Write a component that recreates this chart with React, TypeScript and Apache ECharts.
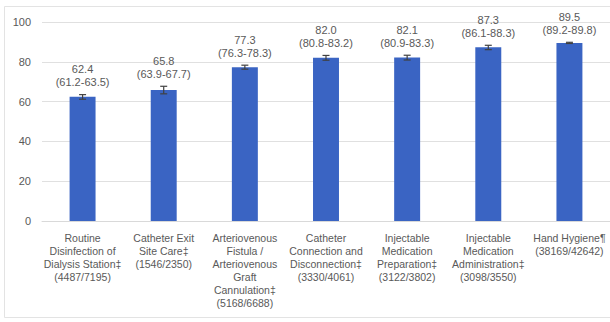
import React, { useEffect, useRef } from "react";
import * as echarts from "echarts";

const categories = [
  "Routine\nDisinfection of\nDialysis Station‡\n(4487/7195)",
  "Catheter Exit\nSite Care‡\n(1546/2350)",
  "Arteriovenous\nFistula /\nArteriovenous\nGraft\nCannulation‡\n(5168/6688)",
  "Catheter\nConnection and\nDisconnection‡\n(3330/4061)",
  "Injectable\nMedication\nPreparation‡\n(3122/3802)",
  "Injectable\nMedication\nAdministration‡\n(3098/3550)",
  "Hand Hygiene¶\n(38169/42642)",
];
const values = [62.4, 65.8, 77.3, 82.0, 82.1, 87.3, 89.5];
const ciLow = [61.2, 63.9, 76.3, 80.8, 80.9, 86.1, 89.2];
const ciHigh = [63.5, 67.7, 78.3, 83.2, 83.3, 88.3, 89.8];
const yTicks = [0, 20, 40, 60, 80, 100];

const FONT = "Liberation Sans";
const TEXT = "#595959";

export default function App() {
  const ref = useRef<HTMLDivElement>(null);
  useEffect(() => {
    if (!ref.current) return;
    const chart = echarts.init(ref.current, undefined, { renderer: "svg" });
    chart.setOption({
      animation: false,
      backgroundColor: "#ffffff",
      graphic: [
        {
          type: "rect",
          shape: { x: 4.5, y: 6.5, width: 620, height: 311 },
          style: { fill: "none", stroke: "#e3e3e3", lineWidth: 1 },
          silent: true,
          z: -1,
        },
      ],
      grid: { left: 42, top: 22, width: 573, height: 199 },
      xAxis: {
        type: "category",
        data: categories,
        axisTick: { show: false },
        axisLine: { lineStyle: { color: "#d9d9d9" } },
        axisLabel: {
          interval: 0,
          color: TEXT,
          fontFamily: FONT,
          fontSize: 10.5,
          lineHeight: 13,
          margin: 10,
        },
      },
      yAxis: {
        type: "value",
        min: yTicks[0],
        max: yTicks[yTicks.length - 1],
        interval: 20,
        axisLine: { show: false },
        axisTick: { show: false },
        splitLine: { lineStyle: { color: "#e0e0e0" } },
        axisLabel: { color: TEXT, fontFamily: FONT, fontSize: 11, margin: 11 },
      },
      series: [
        {
          type: "bar",
          data: values,
          barWidth: "32%",
          itemStyle: { color: "#3A64C3" },
        },
        {
          type: "custom",
          data: values.map((v, i) => [i, ciLow[i], ciHigh[i], v]),
          encode: { x: 0, y: [1, 2] },
          z: 10,
          renderItem: (params: any, api: any) => {
            const i = api.value(0);
            const lo = api.coord([i, api.value(1)]);
            const hi = api.coord([i, api.value(2)]);
            const x = lo[0];
            const cap = 3.5;
            const style = { stroke: "#404040", lineWidth: 1.2 };
            return {
              type: "group",
              children: [
                { type: "line", shape: { x1: x, y1: lo[1], x2: x, y2: hi[1] }, style },
                { type: "line", shape: { x1: x - cap, y1: lo[1], x2: x + cap, y2: lo[1] }, style },
                { type: "line", shape: { x1: x - cap, y1: hi[1], x2: x + cap, y2: hi[1] }, style },
                {
                  type: "text",
                  x: x,
                  y: hi[1] - 6,
                  style: {
                    text:
                      api.value(3).toFixed(1) +
                      "\n(" +
                      api.value(1).toFixed(1) +
                      "-" +
                      api.value(2).toFixed(1) +
                      ")",
                    fill: TEXT,
                    font: `11px "${FONT}"`,
                    align: "center",
                    verticalAlign: "bottom",
                    lineHeight: 13,
                  },
                },
              ],
            };
          },
        },
      ],
    });
    return () => chart.dispose();
  }, []);
  return (
    <div
      ref={ref}
      style={{ position: "absolute", left: 0, top: 0, width: 610, height: 322 }}
    />
  );
}
